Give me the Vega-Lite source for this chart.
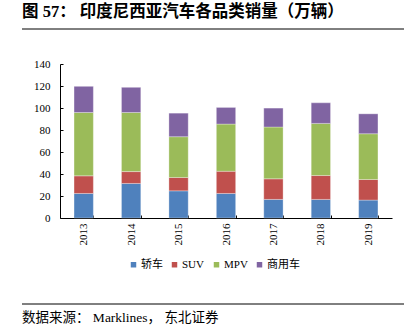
{
  "$schema": "https://vega.github.io/schema/vega-lite/v6.json",
  "autosize": {"type": "none"},
  "width": 332,
  "height": 154,
  "padding": {"left": 60, "top": 64, "right": 21, "bottom": 118},
  "title": {
    "text": "图 57： 印度尼西亚汽车各品类销量（万辆）",
    "anchor": "start",
    "frame": "group",
    "dx": -38,
    "offset": 8,
    "fontSize": 16.5,
    "fontWeight": "bold",
    "font": "Liberation Serif, Noto Sans CJK SC",
    "color": "#000000"
  },
  "config": {
    "view": {"stroke": null},
    "font": "Liberation Serif, Noto Sans CJK SC"
  },
  "layer": [
    {
      "data": {
        "values": [
          {"year": "2013", "type": "轿车", "value": 22.3},
          {"year": "2013", "type": "SUV", "value": 16.0},
          {"year": "2013", "type": "MPV", "value": 57.6},
          {"year": "2013", "type": "商用车", "value": 23.8},
          {"year": "2014", "type": "轿车", "value": 31.4},
          {"year": "2014", "type": "SUV", "value": 10.8},
          {"year": "2014", "type": "MPV", "value": 53.7},
          {"year": "2014", "type": "商用车", "value": 22.9},
          {"year": "2015", "type": "轿车", "value": 24.7},
          {"year": "2015", "type": "SUV", "value": 12.1},
          {"year": "2015", "type": "MPV", "value": 37.1},
          {"year": "2015", "type": "商用车", "value": 21.4},
          {"year": "2016", "type": "轿车", "value": 22.3},
          {"year": "2016", "type": "SUV", "value": 20.2},
          {"year": "2016", "type": "MPV", "value": 42.9},
          {"year": "2016", "type": "商用车", "value": 15.1},
          {"year": "2017", "type": "轿车", "value": 16.9},
          {"year": "2017", "type": "SUV", "value": 18.7},
          {"year": "2017", "type": "MPV", "value": 47.1},
          {"year": "2017", "type": "商用车", "value": 17.2},
          {"year": "2018", "type": "轿车", "value": 16.9},
          {"year": "2018", "type": "SUV", "value": 21.7},
          {"year": "2018", "type": "MPV", "value": 47.4},
          {"year": "2018", "type": "商用车", "value": 18.7},
          {"year": "2019", "type": "轿车", "value": 16.3},
          {"year": "2019", "type": "SUV", "value": 18.7},
          {"year": "2019", "type": "MPV", "value": 41.6},
          {"year": "2019", "type": "商用车", "value": 18.1}
        ]
      },
      "transform": [
        {
          "lookup": "type",
          "from": {
            "data": {
              "values": [
                {"type": "轿车", "rank": 1},
                {"type": "SUV", "rank": 2},
                {"type": "MPV", "rank": 3},
                {"type": "商用车", "rank": 4}
              ]
            },
            "key": "type",
            "fields": ["rank"]
          }
        }
      ],
      "mark": {"type": "bar", "stroke": "#ffffff", "strokeWidth": 0.6, "strokeOpacity": 0.5},
      "encoding": {
        "x": {
          "field": "year",
          "type": "nominal",
          "scale": {"paddingInner": 0.593, "paddingOuter": 0.296},
          "axis": {
            "title": null,
            "labelAngle": -90,
            "labelFont": "Liberation Serif",
            "labelFontSize": 11,
            "labelColor": "#000000",
            "domainColor": "#000000",
            "tickColor": "#000000",
            "tickBand": "extent",
            "tickSize": -3,
            "labelPadding": 8
          }
        },
        "y": {
          "field": "value",
          "type": "quantitative",
          "stack": "zero",
          "scale": {"domain": [0, 140], "nice": false},
          "axis": {
            "title": null,
            "values": [0, 20, 40, 60, 80, 100, 120, 140],
            "grid": false,
            "labelFont": "Liberation Serif",
            "labelFontSize": 11,
            "labelColor": "#000000",
            "domainColor": "#000000",
            "tickColor": "#000000",
            "tickSize": -3,
            "labelPadding": 13
          }
        },
        "order": {"field": "rank", "type": "quantitative", "sort": "ascending"},
        "color": {
          "field": "type",
          "type": "nominal",
          "sort": ["轿车", "SUV", "MPV", "商用车"],
          "scale": {
            "domain": ["轿车", "SUV", "MPV", "商用车"],
            "range": ["#4F81BD", "#C0504D", "#9BBB59", "#8064A2"]
          },
          "legend": {
            "title": null,
            "orient": "none",
            "legendX": 68,
            "legendY": 195,
            "direction": "horizontal",
            "symbolType": "square",
            "symbolSize": 30,
            "symbolStrokeWidth": 0,
            "labelFont": "Liberation Serif, Noto Sans CJK SC",
            "labelFontSize": 11,
            "labelColor": "#000000",
            "labelOffset": 2,
            "columnPadding": 6,
            "padding": 0
          }
        }
      }
    },
    {
      "data": {"values": [{"pos": "top"}]},
      "mark": {"type": "rule", "color": "#000000", "strokeWidth": 1},
      "encoding": {"x": {"value": -38}, "x2": {"value": 344}, "y": {"value": -35}}
    },
    {
      "data": {"values": [{"pos": "bottom"}]},
      "mark": {"type": "rule", "color": "#000000", "strokeWidth": 1},
      "encoding": {"x": {"value": -38}, "x2": {"value": 344}, "y": {"value": 240}}
    },
    {
      "data": {"values": [{"t": "数据来源： Marklines， 东北证券"}]},
      "mark": {"type": "text", "align": "left", "baseline": "middle", "fontSize": 13.5, "font": "Liberation Serif, Noto Sans CJK SC", "color": "#000000"},
      "encoding": {"text": {"field": "t"}, "x": {"value": -38}, "y": {"value": 254}}
    }
  ]
}
